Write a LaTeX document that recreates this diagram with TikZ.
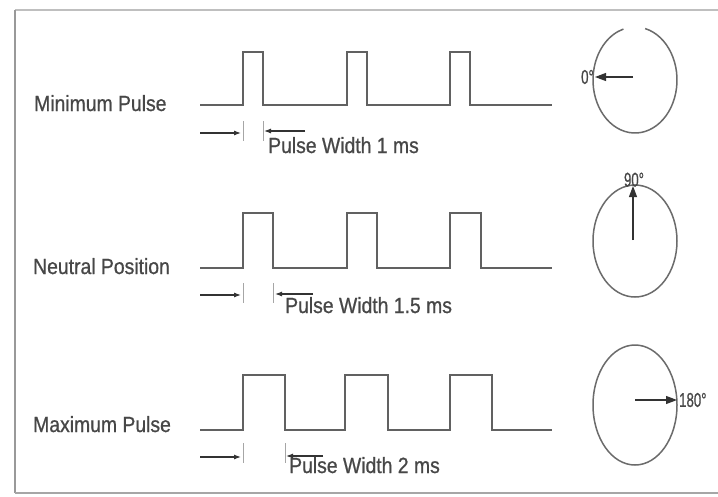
\documentclass[tikz,border=0pt]{standalone}
\usepackage{fontspec}
\setmainfont{Liberation Sans}[FakeStretch=0.88,FakeBold=0.8]
\newfontfamily\narrowfont{Liberation Sans}[FakeStretch=0.66,FakeBold=0.6]
\usetikzlibrary{arrows.meta}
\tikzset{
  wave/.style={draw=black!62, line width=1.7pt, line join=miter},
  dimline/.style={draw=black!80, line width=1.1pt, -{Latex[length=7pt,width=5pt]}},
  tickline/.style={draw=black!35, line width=0.6pt},
  lbl/.style={anchor=base west, inner sep=0pt, text=black!72, font=\fontsize{22}{24}\selectfont},
  dial/.style={draw=black!58, line width=1.5pt},
  ptr/.style={draw=black!80, line width=1.1pt, -{Triangle[length=11pt,width=8pt]}},
  deg/.style={inner sep=0pt, text=black!72, font=\narrowfont\fontsize{20}{20}\selectfont},
  frameline/.style={draw=black!25, line width=1.6pt},
}
\begin{document}
\begin{tikzpicture}[x=1pt,y=-1pt]
\useasboundingbox (0,0) rectangle (718,496);
\fill[white] (0,0) rectangle (718,496);
% frame
\draw[frameline] (722,10) -- (15,10);
\draw[frameline, draw=black!40, line width=2.2pt] (15,10) -- (15,493);
\draw[frameline, draw=black!35] (15,493) -- (722,493);

% row labels
\node[lbl] (lab1) at (34,111) {Minimum Pulse};
\node[lbl] (lab2) at (33,274) {Neutral Position};
\node[lbl] (lab3) at (33,432) {Maximum Pulse};

% pulse trains
\draw[wave] (200,105) -- (243,105) -- (243,52) -- (263,52) -- (263,105)
  -- (347,105) -- (347,52) -- (367,52) -- (367,105)
  -- (450,105) -- (450,52) -- (470,52) -- (470,105) -- (552,105);
\draw[wave] (200,268) -- (243,268) -- (243,213) -- (273,213) -- (273,268)
  -- (347,268) -- (347,213) -- (377,213) -- (377,268)
  -- (450,268) -- (450,213) -- (481,213) -- (481,268) -- (552,268);
\draw[wave] (200,430) -- (243,430) -- (243,375) -- (285,375) -- (285,430)
  -- (345,430) -- (345,375) -- (388,375) -- (388,430)
  -- (450,430) -- (450,375) -- (492,375) -- (492,430) -- (552,430);

% width markers, row 1
\coordinate (a1s) at (200,133); \coordinate (a1e) at (241,133);
\coordinate (b1s) at (305,131); \coordinate (b1e) at (264,131);
\draw[tickline] (243,121) -- (243,141);
\draw[tickline] (263,121) -- (263,141);
\draw[dimline] (a1s) -- (a1e);
\draw[dimline] (b1s) -- (b1e);
\node[lbl] (pw1) at (268,153) {Pulse Width 1 ms};

% row 2
\coordinate (a2s) at (200,295); \coordinate (a2e) at (241,295);
\coordinate (b2s) at (313,294); \coordinate (b2e) at (275,294);
\draw[tickline] (243,283) -- (243,303);
\draw[tickline] (273,283) -- (273,303);
\draw[dimline] (a2s) -- (a2e);
\draw[dimline] (b2s) -- (b2e);
\node[lbl] (pw2) at (285,313) {Pulse Width 1.5 ms};

% row 3
\coordinate (a3s) at (200,457); \coordinate (a3e) at (241,457);
\coordinate (b3s) at (323,456); \coordinate (b3e) at (286,456);
\draw[tickline] (243,443) -- (243,463);
\draw[tickline] (285,443) -- (285,463);
\draw[dimline] (a3s) -- (a3e);
\draw[dimline] (b3s) -- (b3e);
\node[lbl] (pw3) at (289,473) {Pulse Width 2 ms};

% dials
\coordinate (c1) at (635,80);
\coordinate (c2) at (635,241);
\coordinate (c3) at (635,405);
\draw[dial] (c1) ++(284:42 and 53) arc[start angle=284, end angle=614, x radius=42, y radius=53];
\draw[dial] (c2) ellipse[x radius=42, y radius=56];
\draw[dial] (c3) ellipse[x radius=42, y radius=60];

\coordinate (p1s) at (633,77); \coordinate (p1e) at (595,77);
\coordinate (p2s) at (633,240); \coordinate (p2e) at (633,186);
\coordinate (p3s) at (635,400); \coordinate (p3e) at (677,400);
\draw[ptr] (p1s) -- (p1e);
\draw[ptr] (p2s) -- (p2e);
\draw[ptr] (p3s) -- (p3e);

\node[deg, anchor=east] (d1) at (594,77) {0°};
\node[deg, anchor=south] (d2) at (634,187) {90°};
\node[deg, anchor=west] (d3) at (679,400) {180°};
\end{tikzpicture}
\end{document}
